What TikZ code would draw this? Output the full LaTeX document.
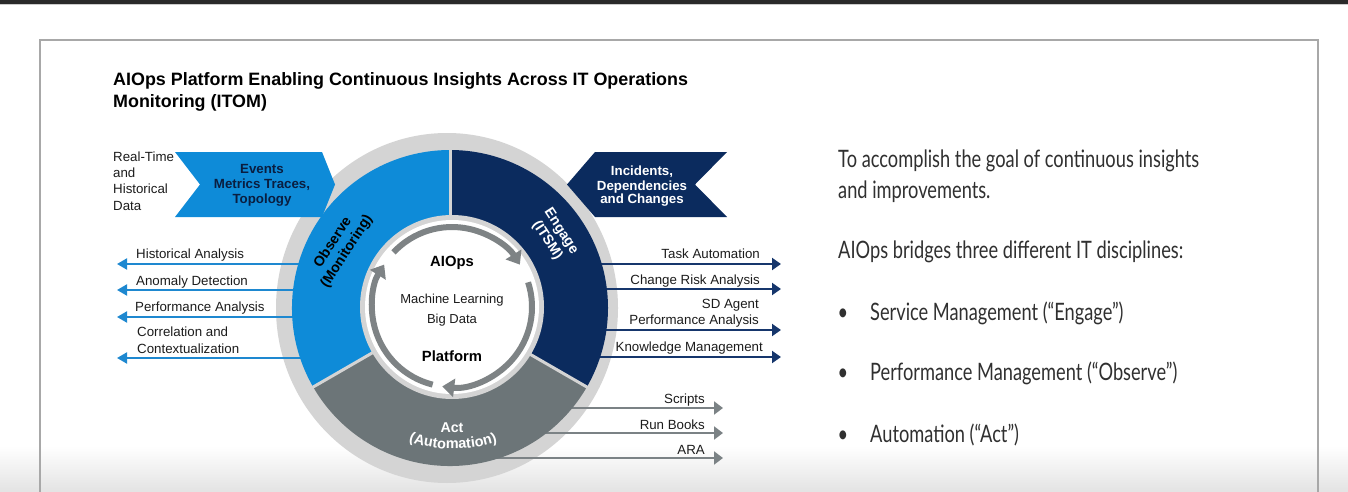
\documentclass[tikz,border=0pt]{standalone}
\usepackage{fontspec}
\setmainfont{Liberation Sans}
\newfontfamily\narrowfont[FakeStretch=0.76]{Lato}
\usetikzlibrary{arrows.meta,calc,decorations.text}

\definecolor{obsblue}{HTML}{0E8BD8}
\definecolor{engnavy}{HTML}{0B2B5E}
\definecolor{actgray}{HTML}{6C7578}
\definecolor{ringgray}{HTML}{D4D4D4}
\definecolor{cyclegray}{HTML}{7E8385}
\definecolor{labelink}{HTML}{1C1C1C}
\definecolor{bannerink}{HTML}{0A1E40}
\definecolor{proseink}{HTML}{303030}
\definecolor{panelline}{HTML}{A8A8A8}
\definecolor{topbar}{HTML}{2A2A2A}
\definecolor{obsline}{HTML}{1E88D0}
\definecolor{engline}{HTML}{16366C}
\definecolor{actline}{HTML}{7B8285}

\begin{document}
\begin{tikzpicture}[x=1pt, y=-1pt,
  title/.style={font=\bfseries\fontsize{17.9}{21}\selectfont, text=black, inner sep=0pt},
  lbl/.style={font=\fontsize{13.3}{15}\selectfont, text=labelink, inner sep=0pt},
  bannerlbl/.style={font=\bfseries\fontsize{13.3}{15}\selectfont, inner sep=0pt},
  hubbold/.style={font=\bfseries\fontsize{14.8}{17}\selectfont, text=black, inner sep=0pt},
  hub/.style={font=\fontsize{13}{15}\selectfont, text=labelink, inner sep=0pt},
  sector/.style={font=\bfseries\fontsize{14.2}{16.5}\selectfont, inner sep=0pt, align=center},
  prose/.style={font=\narrowfont\fontsize{24}{29}\selectfont, text=proseink, inner sep=0pt},
  obsarrow/.style={obsline, line width=2, -{Triangle[length=10pt,width=11pt]}},
  engarrow/.style={engline, line width=2, -{Triangle[length=9pt,width=12pt]}},
  actarrow/.style={actline, line width=2, -{Triangle[length=9pt,width=13pt]}},
  cyclearrow/.style={cyclegray, line width=6, -{Triangle[length=12pt,width=18pt]}}
]
\useasboundingbox (0,0) rectangle (1348,492);

% page, top bar and panel frame
\fill[white] (0,0) rectangle (1348,492);
\shade[top color=white, bottom color=black!11] (0,446) rectangle (1348,492);
\fill[topbar] (0,0) rectangle (1348,4);
\draw[black!20, line width=1] (0,4.5) -- (1348,4.5);
\draw[panelline, line width=1.4] (40,500) -- (40,40) -- (1318,40) -- (1318,500);

% title
\node[title, anchor=base west] (title1) at (113,86) {AIOps Platform Enabling Continuous Insights Across IT Operations};
\node[title, anchor=base west] (title2) at (113,107) {Monitoring (ITOM)};

% centres of the wheel
\coordinate (C) at (450,308);
\coordinate (Cw) at (452,307);

% outer ring
\fill[ringgray] (447,308) ellipse [x radius=171, y radius=175];

% output connectors (run under the wheel, over the ring)
\coordinate (o1s) at (400,264); \coordinate (o1e) at (117,264);
\coordinate (o2s) at (400,290); \coordinate (o2e) at (117,290);
\coordinate (o3s) at (400,317); \coordinate (o3e) at (117,317);
\coordinate (o4s) at (400,358); \coordinate (o4e) at (117,358);
\draw[obsarrow] (o1s) -- (o1e);
\draw[obsarrow] (o2s) -- (o2e);
\draw[obsarrow] (o3s) -- (o3e);
\draw[obsarrow] (o4s) -- (o4e);

\coordinate (e1s) at (500,264); \coordinate (e1e) at (781,264);
\coordinate (e2s) at (500,289); \coordinate (e2e) at (781,289);
\coordinate (e3s) at (500,330); \coordinate (e3e) at (781,330);
\coordinate (e4s) at (500,357); \coordinate (e4e) at (781,357);
\draw[engarrow] (e1s) -- (e1e);
\draw[engarrow] (e2s) -- (e2e);
\draw[engarrow] (e3s) -- (e3e);
\draw[engarrow] (e4s) -- (e4e);

\coordinate (a1s) at (450,408); \coordinate (a1e) at (723,408);
\coordinate (a2s) at (450,433); \coordinate (a2e) at (723,433);
\coordinate (a3s) at (450,458); \coordinate (a3e) at (723,458);
\draw[actarrow] (a1s) -- (a1e);
\draw[actarrow] (a2s) -- (a2e);
\draw[actarrow] (a3s) -- (a3e);

% three sectors
\fill[obsblue] (C) -- ++(150:158) arc[start angle=150, end angle=270, radius=158] -- cycle;
\fill[engnavy] (C) -- ++(270:158) arc[start angle=270, end angle=390, radius=158] -- cycle;
\fill[actgray] (C) -- ++(30:158) arc[start angle=30, end angle=150, radius=158] -- cycle;
\draw[ringgray, line width=3] (C) -- ++(270:160);
\draw[ringgray, line width=3] (C) -- ++(30:160);
\draw[ringgray, line width=3] (C) -- ++(150:160);

% hub
\fill[ringgray] (Cw) circle (92);
\fill[white] (Cw) circle (87);
\draw[cyclearrow] ($(Cw)+(-137:80)$) arc[start angle=-137, end angle=-32, radius=80];
\draw[cyclearrow] ($(Cw)+(-18:80)$) arc[start angle=-18, end angle=97, radius=80];
\draw[cyclearrow] ($(Cw)+(104:80)$) arc[start angle=104, end angle=212, radius=80];

\node[hubbold, anchor=base] (aiops) at (452,266) {AIOps};
\node[hub, anchor=base] (ml) at (452,303) {Machine Learning};
\node[hub, anchor=base] (bd) at (452,323) {Big Data};
\node[hubbold, anchor=base] (platform) at (452,361) {Platform};

% sector labels
\node[sector, text=black, rotate=57] (observe) at (340,247) {Observe\\(Monitoring)};
\node[sector, text=white, rotate=-57] (engage) at (554,236) {Engage\\(ITSM)};
\node[sector, text=white, anchor=base] (act) at (452,432) {Act};
\path[decorate, decoration={text along path, text align=center,
   text={|\bfseries\fontsize{14.5}{17}\selectfont\color{white}|(Automation)}}]
   ($(453,308)+(122:141)$) arc[start angle=122, end angle=58, radius=141];

% input banners
\fill[obsblue] (175,152) -- (322,152) -- (335,184.5) -- (322,217) -- (175,217) -- (200,184.5) -- cycle;
\fill[engnavy] (567,184.5) -- (595,152) -- (727,152) -- (695,184.5) -- (727,217) -- (595,217) -- cycle;

\node[bannerlbl, text=bannerink, anchor=base] (ev1) at (262,173) {Events};
\node[bannerlbl, text=bannerink, anchor=base] (ev2) at (262,188) {Metrics Traces,};
\node[bannerlbl, text=bannerink, anchor=base] (ev3) at (262,203) {Topology};

\node[bannerlbl, text=white, anchor=base] (in1) at (642,175.5) {Incidents,};
\node[bannerlbl, text=white, anchor=base] (in2) at (642,190) {Dependencies};
\node[bannerlbl, text=white, anchor=base] (in3) at (642,203) {and Changes};

\node[lbl, anchor=base west] (rt1) at (113,161) {Real-Time};
\node[lbl, anchor=base west] (rt2) at (113,177) {and};
\node[lbl, anchor=base west] (rt3) at (113,193) {Historical};
\node[lbl, anchor=base west] (rt4) at (113,210) {Data};

% output labels
\node[lbl, anchor=base west] (histA) at (136,258) {Historical Analysis};
\node[lbl, anchor=base west] (anom) at (136,285) {Anomaly Detection};
\node[lbl, anchor=base west] (perfA) at (135,311) {Performance Analysis};
\node[lbl, anchor=base west] (corr1) at (137,336) {Correlation and};
\node[lbl, anchor=base west] (corr2) at (137,353) {Contextualization};

\node[lbl, anchor=base east] (task) at (760,258) {Task Automation};
\node[lbl, anchor=base east] (risk) at (760,284) {Change Risk Analysis};
\node[lbl, anchor=base east] (sd1) at (759,308) {SD Agent};
\node[lbl, anchor=base east] (sd2) at (759,324) {Performance Analysis};
\node[lbl, anchor=base east] (know) at (763,351) {Knowledge Management};

\node[lbl, anchor=base east] (scripts) at (705,403) {Scripts};
\node[lbl, anchor=base east] (runbooks) at (705,429) {Run Books};
\node[lbl, anchor=base east] (ara) at (705,454) {ARA};

% explanatory text
\node[prose, anchor=base west] (p1) at (838,167) {To accomplish the goal of continuous insights};
\node[prose, anchor=base west] (p2) at (838,198) {and improvements.};
\node[prose, anchor=base west] (p3) at (838,258) {AIOps bridges three different IT disciplines:};
\node[prose, anchor=base] (b1) at (843,320) {•};
\node[prose, anchor=base west] (i1) at (870,320) {Service Management (“Engage”)};
\node[prose, anchor=base] (b2) at (843,380) {•};
\node[prose, anchor=base west] (i2) at (870,380) {Performance Management (“Observe”)};
\node[prose, anchor=base] (b3) at (843,442) {•};
\node[prose, anchor=base west] (i3) at (870,442) {Automation (“Act”)};
\end{tikzpicture}
\end{document}
